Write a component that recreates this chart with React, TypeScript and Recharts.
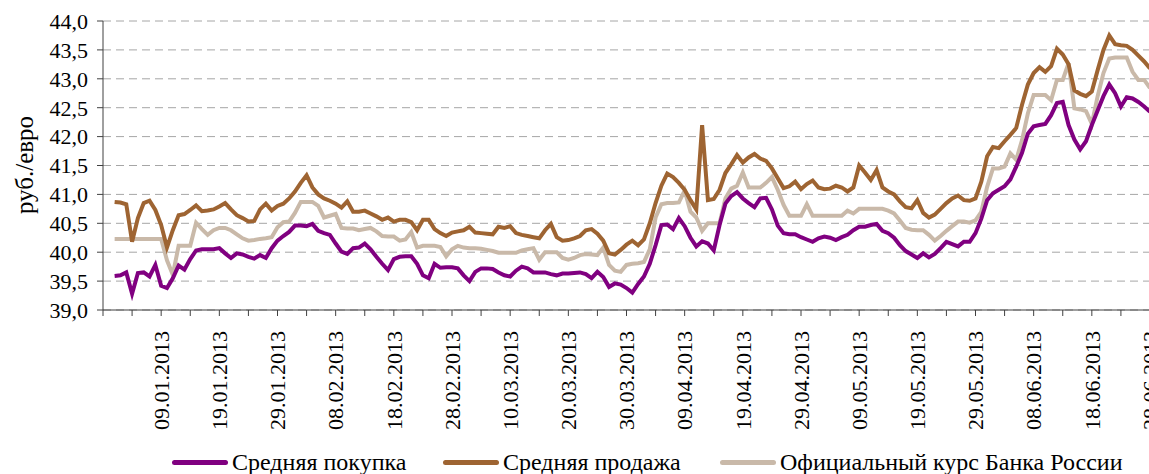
import { CartesianGrid, Legend, Line, LineChart, XAxis, YAxis } from 'recharts';

// x = days counted from 30.12.2012; the data starts at 01.01.2013 (day 2)
const START_DAY = 2;

const TICK_DAYS = [0, 5, 10, 15, 20, 25, 30, 35, 40, 45, 50, 55, 60, 65, 70, 75, 80, 85, 90, 95, 100, 105, 110, 115, 120, 125, 130, 135, 140, 145, 150, 155, 160, 165, 170, 175, 180];
const LABEL_DAYS = [10, 20, 30, 40, 50, 60, 70, 80, 90, 100, 110, 120, 130, 140, 150, 160, 170, 180];
const TICK_LABELS = ['09.01.2013', '19.01.2013', '29.01.2013', '08.02.2013', '18.02.2013', '28.02.2013', '10.03.2013', '20.03.2013', '30.03.2013', '09.04.2013', '19.04.2013', '29.04.2013', '09.05.2013', '19.05.2013', '29.05.2013', '08.06.2013', '18.06.2013', '28.06.2013'];
const Y_TICKS = [39, 39.5, 40, 40.5, 41, 41.5, 42, 42.5, 43, 43.5, 44];

// Средняя покупка
const BUY = [
  39.59, 39.6, 39.65, 39.28, 39.64, 39.65, 39.58, 39.78, 39.42, 39.38,
  39.55, 39.77, 39.7, 39.88, 40.03, 40.05, 40.05, 40.05, 40.07, 39.98,
  39.9, 39.98, 39.96, 39.92, 39.89, 39.95, 39.9, 40.07, 40.2, 40.28,
  40.35, 40.46, 40.46, 40.45, 40.49, 40.37, 40.33, 40.3, 40.15, 40.01,
  39.97, 40.07, 40.08, 40.15, 40.05, 39.92, 39.8, 39.69, 39.88, 39.92,
  39.93, 39.93, 39.8, 39.6, 39.55, 39.8, 39.73, 39.74, 39.74, 39.72,
  39.6, 39.5, 39.66, 39.72, 39.72, 39.71, 39.65, 39.6, 39.58, 39.68,
  39.75, 39.72, 39.65, 39.65, 39.65, 39.62, 39.6, 39.63, 39.63, 39.64,
  39.65, 39.62, 39.55, 39.66, 39.57, 39.4, 39.46, 39.44, 39.38, 39.3,
  39.45, 39.58, 39.8, 40.12, 40.47, 40.48, 40.4, 40.59, 40.45, 40.25,
  40.1, 40.19, 40.15, 40.03, 40.47, 40.84, 40.97, 41.04, 40.93, 40.85,
  40.78, 40.93, 40.94, 40.74, 40.46, 40.33, 40.31, 40.31, 40.26, 40.22,
  40.18, 40.24, 40.27, 40.25, 40.21, 40.26, 40.3, 40.38, 40.44, 40.44,
  40.47, 40.49, 40.37, 40.33, 40.25, 40.12, 40.02, 39.96, 39.9, 39.98,
  39.91, 39.97, 40.07, 40.18, 40.14, 40.1, 40.18, 40.18, 40.33, 40.58,
  40.9, 41.02, 41.08, 41.14, 41.26, 41.48, 41.72, 42.05, 42.18, 42.2,
  42.22, 42.37, 42.58, 42.6, 42.2, 41.95, 41.78, 41.92, 42.2, 42.45,
  42.7, 42.9, 42.75, 42.52, 42.68, 42.66, 42.6, 42.52, 42.43,
];

// Средняя продажа
const SELL = [
  40.87, 40.86, 40.83, 40.18, 40.59, 40.85, 40.89, 40.73, 40.47, 40.08,
  40.38, 40.64, 40.66, 40.73, 40.81, 40.71, 40.72, 40.74, 40.79, 40.85,
  40.74, 40.64, 40.59, 40.53, 40.54, 40.74, 40.84, 40.72, 40.8, 40.84,
  40.93, 41.05, 41.2, 41.33, 41.12, 41.0, 40.93, 40.89, 40.84, 40.77,
  40.88, 40.7, 40.7, 40.72, 40.67, 40.62, 40.56, 40.6, 40.53, 40.56,
  40.56, 40.52, 40.38, 40.56, 40.56, 40.4, 40.33, 40.28, 40.34, 40.36,
  40.38, 40.44, 40.34, 40.33, 40.32, 40.31, 40.44, 40.42, 40.45, 40.33,
  40.3, 40.28, 40.26, 40.24, 40.38, 40.49, 40.26, 40.2, 40.21, 40.24,
  40.28, 40.38, 40.4, 40.32, 40.2, 39.98, 39.96, 40.04, 40.13, 40.2,
  40.12, 40.22, 40.5, 40.85, 41.15, 41.36, 41.3, 41.2, 41.08, 40.9,
  40.74, 42.2, 40.9, 40.92, 41.08, 41.37, 41.52, 41.68, 41.55, 41.64,
  41.7, 41.62, 41.58, 41.45, 41.28, 41.11, 41.14, 41.22, 41.09, 41.18,
  41.24, 41.12, 41.09, 41.1, 41.15, 41.12, 41.05, 41.12, 41.5, 41.38,
  41.25, 41.42, 41.12, 41.05, 41.0, 40.88, 40.78, 40.76, 40.9, 40.68,
  40.6, 40.65, 40.75, 40.85, 40.93, 40.98, 40.9, 40.89, 40.93, 41.22,
  41.66, 41.82, 41.8, 41.92, 42.03, 42.15, 42.55, 42.9, 43.1, 43.2,
  43.12, 43.22, 43.52, 43.42, 43.25, 42.8, 42.74, 42.7, 42.78, 43.15,
  43.5, 43.75, 43.6, 43.58, 43.57, 43.5, 43.4, 43.3, 43.18,
];

// Официальный курс Банка России
const CBR = [
  40.23, 40.23, 40.23, 40.23, 40.23, 40.23, 40.23, 40.23, 40.23, 39.86,
  39.61, 40.11, 40.11, 40.11, 40.51, 40.4, 40.3, 40.38, 40.42, 40.42,
  40.38, 40.31, 40.24, 40.2, 40.21, 40.23, 40.24, 40.26, 40.43, 40.52,
  40.53, 40.68, 40.87, 40.87, 40.87, 40.8, 40.6, 40.63, 40.66, 40.42,
  40.41, 40.41, 40.38, 40.4, 40.42, 40.36, 40.28, 40.27, 40.27, 40.2,
  40.22, 40.35, 40.08, 40.11, 40.11, 40.11, 40.09, 39.93, 40.05, 40.11,
  40.08, 40.07, 40.07, 40.06, 40.04, 40.02, 39.99, 39.99, 39.99, 39.99,
  40.03, 40.05, 40.07, 39.87, 40.0, 40.0, 40.0, 39.9, 39.87, 39.9,
  39.95, 39.97, 39.96, 39.95, 40.08, 39.78, 39.68, 39.66, 39.78, 39.8,
  39.81, 39.83, 40.05, 40.6, 40.83, 40.85, 40.85, 40.86, 41.07, 40.7,
  40.6, 40.37, 40.5, 40.5, 40.5, 40.93, 41.1, 41.15, 41.38, 41.12,
  41.12, 41.12, 41.2, 41.3, 41.08, 40.82, 40.63, 40.63, 40.63, 40.83,
  40.63, 40.63, 40.63, 40.63, 40.63, 40.63, 40.72, 40.67, 40.75, 40.75,
  40.75, 40.75, 40.75, 40.72, 40.67, 40.55, 40.42, 40.39, 40.38, 40.38,
  40.3, 40.2, 40.28, 40.37, 40.45, 40.53, 40.53, 40.51, 40.55, 40.7,
  41.13, 41.45, 41.45, 41.48, 41.71, 41.6, 41.94, 42.4, 42.72, 42.72,
  42.72, 42.63, 42.98, 42.98, 43.27, 42.49, 42.47, 42.44, 42.22, 42.7,
  43.1, 43.35, 43.37, 43.37, 43.37, 43.12, 42.98, 42.98, 42.84,
];

const SERIES = [
  { key: 'buy', name: 'Средняя покупка', color: '#800080' },
  { key: 'sell', name: 'Средняя продажа', color: '#9e6432' },
  { key: 'cbr', name: 'Официальный курс Банка России', color: '#c9b9a9' },
];
const LEGEND_LEFT = [172, 443, 720];

const FONT = "'Liberation Serif', 'Times New Roman', serif";

const data = BUY.map((v, i) => ({ day: START_DAY + i, buy: v, sell: SELL[i], cbr: CBR[i] }));

function XTick({ x, y, payload }: any) {
  const idx = LABEL_DAYS.indexOf(payload.value);
  if (idx < 0) return null;
  return (
    <text transform={`translate(${x},${y}) rotate(-90)`} textAnchor="end" dy="0.35em" fontSize={22} fontFamily={FONT} fill="#000">
      {TICK_LABELS[idx]}
    </text>
  );
}

function LegendBox() {
  return (
    <div style={{ position: 'relative', width: 1149, height: 24, fontFamily: FONT, fontSize: 24, color: '#000' }}>
      {SERIES.map((s, i) => (
        <div key={s.key} style={{ position: 'absolute', left: LEGEND_LEFT[i], top: 0, height: 24, display: 'flex', alignItems: 'center', whiteSpace: 'nowrap' }}>
          <span style={{ display: 'inline-block', width: 56, height: 5, borderRadius: 3, background: s.color, marginRight: 4 }} />
          <span>{s.name}</span>
        </div>
      ))}
    </div>
  );
}

export default function App() {
  return (
    <div style={{ position: 'absolute', left: 0, top: 0, width: 1149, height: 474, overflow: 'hidden', background: '#fff' }}>
      <LineChart width={1160} height={474} data={data} margin={{ top: 21, right: 10, bottom: 134, left: 0 }}>
        <CartesianGrid vertical={false} stroke="#a6a6a6" strokeDasharray="8 5" />
        <XAxis
          type="number"
          dataKey="day"
          domain={[0, 180]}
          ticks={TICK_DAYS}
          interval={0}
          height={30}
          tickSize={6}
          tickMargin={15}
          tick={<XTick />}
          axisLine={{ stroke: '#404040' }}
          tickLine={{ stroke: '#404040' }}
        />
        <YAxis
          type="number"
          domain={[39, 44]}
          ticks={Y_TICKS}
          interval={0}
          width={103}
          tickSize={6}
          tickMargin={9}
          tickFormatter={(v: number) => v.toFixed(1).replace('.', ',')}
          tick={{ fontSize: 22, fontFamily: FONT, fill: '#000' }}
          axisLine={{ stroke: '#404040' }}
          tickLine={{ stroke: '#404040' }}
          label={() => (
            <text x={24} y={165} transform="rotate(-90 24 165)" textAnchor="middle" dominantBaseline="central" fontSize={25} fontFamily={FONT} fill="#000">
              руб./евро
            </text>
          )}
        />
        <Legend layout="horizontal" verticalAlign="middle" align="center" content={<LegendBox />} wrapperStyle={{ left: 0, top: 450, width: 1149, height: 24 }} />
        <Line type="linear" dataKey="cbr" name={SERIES[2].name} stroke={SERIES[2].color} strokeWidth={4} dot={false} isAnimationActive={false} />
        <Line type="linear" dataKey="sell" name={SERIES[1].name} stroke={SERIES[1].color} strokeWidth={4} dot={false} isAnimationActive={false} />
        <Line type="linear" dataKey="buy" name={SERIES[0].name} stroke={SERIES[0].color} strokeWidth={4} dot={false} isAnimationActive={false} />
      </LineChart>
    </div>
  );
}
